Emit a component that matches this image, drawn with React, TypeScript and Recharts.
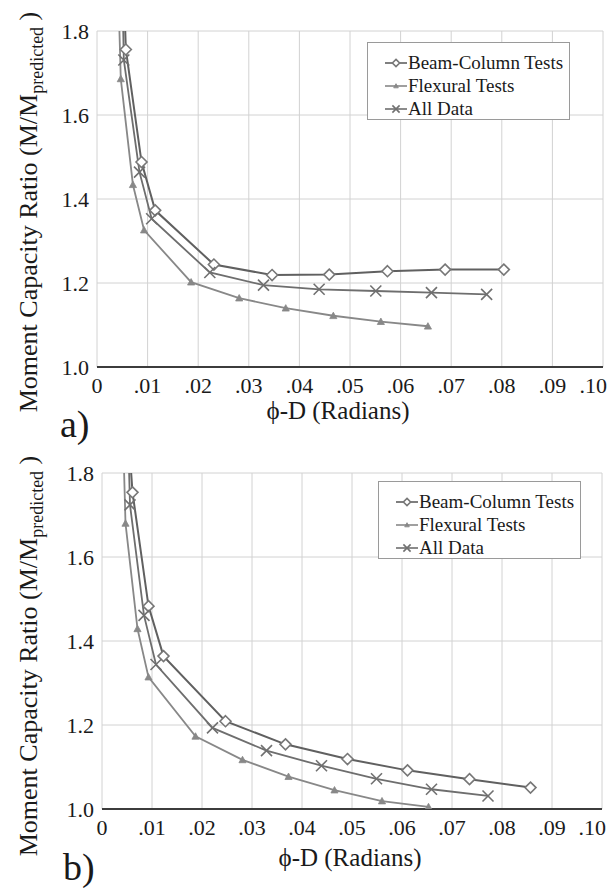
import React from 'react';
import { LineChart, Line, XAxis, YAxis, CartesianGrid, Legend, Label } from 'recharts';

const FONT = '"Liberation Serif", "Times New Roman", Times, "DejaVu Serif", serif';

const X_TICKS = [0, 0.01, 0.02, 0.03, 0.04, 0.05, 0.06, 0.07, 0.08, 0.09, 0.1];
const X_TICK_LABELS = ['0', '.01', '.02', '.03', '.04', '.05', '.06', '.07', '.08', '.09', '.10'];
const Y_TICKS = [1.0, 1.2, 1.4, 1.6, 1.8];
const Y_TICK_LABELS = ['1.0', '1.2', '1.4', '1.6', '1.8'];

const SERIES_NAMES = ['Beam-Column Tests', 'Flexural Tests', 'All Data'];
const X_TITLE = 'ϕ-D (Radians)';
const Y_TITLE_MAIN = 'Moment Capacity Ratio (M/M';
const Y_TITLE_SUB = 'predicted';
const Y_TITLE_END = ' )';
const PANEL_LABELS = ['a)', 'b)'];

// Panel a)
const A_BEAM = [
  { x: 0.0045, y: 2.2 }, { x: 0.0057, y: 1.756 }, { x: 0.0088, y: 1.488 }, { x: 0.0115, y: 1.373 },
  { x: 0.0231, y: 1.244 }, { x: 0.0346, y: 1.219 }, { x: 0.0459, y: 1.22 }, { x: 0.0574, y: 1.228 },
  { x: 0.0688, y: 1.232 }, { x: 0.0804, y: 1.232 },
];
const A_FLEX = [
  { x: 0.0035, y: 2.2 }, { x: 0.0047, y: 1.686 }, { x: 0.0071, y: 1.434 }, { x: 0.0093, y: 1.326 },
  { x: 0.0186, y: 1.202 }, { x: 0.0281, y: 1.164 }, { x: 0.0373, y: 1.14 }, { x: 0.0467, y: 1.122 },
  { x: 0.0561, y: 1.108 }, { x: 0.0654, y: 1.097 },
];
const A_ALL = [
  { x: 0.0045, y: 2.2 }, { x: 0.0053, y: 1.731 }, { x: 0.0084, y: 1.464 }, { x: 0.0108, y: 1.353 },
  { x: 0.0223, y: 1.225 }, { x: 0.0329, y: 1.195 }, { x: 0.0439, y: 1.185 }, { x: 0.0551, y: 1.181 },
  { x: 0.0661, y: 1.177 }, { x: 0.077, y: 1.173 },
];

// Panel b)
const B_BEAM = [
  { x: 0.0035, y: 2.2 }, { x: 0.0061, y: 1.754 }, { x: 0.0093, y: 1.483 }, { x: 0.0123, y: 1.364 },
  { x: 0.0247, y: 1.209 }, { x: 0.0367, y: 1.154 }, { x: 0.0491, y: 1.119 }, { x: 0.0611, y: 1.092 },
  { x: 0.0735, y: 1.071 }, { x: 0.0857, y: 1.051 },
];
const B_FLEX = [
  { x: 0.0035, y: 2.2 }, { x: 0.0047, y: 1.68 }, { x: 0.0071, y: 1.429 }, { x: 0.0093, y: 1.314 },
  { x: 0.0187, y: 1.173 }, { x: 0.0281, y: 1.117 }, { x: 0.0373, y: 1.077 }, { x: 0.0465, y: 1.045 },
  { x: 0.056, y: 1.019 }, { x: 0.0653, y: 1.005 },
];
const B_ALL = [
  { x: 0.0045, y: 2.2 }, { x: 0.0056, y: 1.724 }, { x: 0.0084, y: 1.461 }, { x: 0.0108, y: 1.344 },
  { x: 0.0221, y: 1.193 }, { x: 0.0329, y: 1.139 }, { x: 0.0439, y: 1.103 }, { x: 0.0549, y: 1.072 },
  { x: 0.0659, y: 1.047 }, { x: 0.0772, y: 1.031 },
];

const STYLES = [
  { kind: 'diamond', line: '#606060', marker: '#777777', width: 2 },
  { kind: 'triangle', line: '#888888', marker: '#888888', width: 1.8 },
  { kind: 'cross', line: '#6e6e6e', marker: '#707070', width: 1.8 },
];

function Marker({ kind, cx, cy, color, s }: any) {
  if (kind === 'diamond') {
    return (
      <polygon
        points={`${cx},${cy - s} ${cx + s},${cy} ${cx},${cy + s} ${cx - s},${cy}`}
        fill="#ffffff"
        stroke={color}
        strokeWidth={1.6}
      />
    );
  }
  if (kind === 'triangle') {
    const t = s * 0.65;
    return (
      <polygon
        points={`${cx},${cy - t} ${cx + t},${cy + t * 0.8} ${cx - t},${cy + t * 0.8}`}
        fill={color}
        stroke={color}
        strokeWidth={0.8}
      />
    );
  }
  return (
    <g stroke={color} strokeWidth={1.6}>
      <line x1={cx - s} y1={cy - s} x2={cx + s} y2={cy + s} />
      <line x1={cx - s} y1={cy + s} x2={cx + s} y2={cy - s} />
    </g>
  );
}

const makeDot = (si: number) => (props: any) => {
  const { cx, cy, payload, index } = props;
  const st = STYLES[si];
  if (cx == null || cy == null || payload.y > 1.8) return <g key={`d${index}`} />;
  return (
    <g key={`d${index}`}>
      <Marker kind={st.kind} cx={cx} cy={cy} color={st.marker} s={5.5} />
    </g>
  );
};

const XTick = (props: any) => {
  const { x, y, payload, index } = props;
  const last = index === X_TICKS.length - 1;
  return (
    <text
      x={last ? x + 4 : x}
      y={y}
      dy="0.71em"
      textAnchor={last ? 'end' : 'middle'}
      fontSize={22}
      fill="#1a1a1a"
      style={{ fontFamily: FONT }}
    >
      {X_TICK_LABELS[index] ?? String(payload.value)}
    </text>
  );
};

const YTick = (props: any) => {
  const { x, y, index, payload } = props;
  return (
    <text x={x} y={y} dy="0.355em" textAnchor="end" fontSize={22} fill="#1a1a1a" style={{ fontFamily: FONT }}>
      {Y_TICK_LABELS[index] ?? String(payload.value)}
    </text>
  );
};

const LegendBox = (props: any) => {
  const payload = [...(props.payload || [])].sort(
    (a: any, b: any) => SERIES_NAMES.indexOf(a.value) - SERIES_NAMES.indexOf(b.value)
  );
  return (
    <div
      style={{
        width: 203,
        height: 78,
        boxSizing: 'border-box',
        border: '1px solid #9a9a9a',
        background: '#ffffff',
        paddingTop: 8,
        paddingLeft: 17,
        fontFamily: FONT,
        fontSize: 19,
        color: '#1a1a1a',
      }}
    >
      {payload.map((p: any) => {
        const si = SERIES_NAMES.indexOf(p.value);
        const st = STYLES[si];
        return (
          <div key={p.value} style={{ height: 23, lineHeight: '23px', display: 'flex', alignItems: 'center' }}>
            <svg width={22} height={12} style={{ display: 'block', marginRight: 1 }}>
              <line x1={0} y1={6} x2={22} y2={6} stroke={st.line} strokeWidth={1.6} />
              <Marker kind={st.kind} cx={11} cy={6} color={st.marker} s={3.6} />
            </svg>
            <span style={{ whiteSpace: 'nowrap' }}>{p.value}</span>
          </div>
        );
      })}
    </div>
  );
};

function Panel({ data, top, plotLeft, plotTop, plotRight, height, yTitleCy, xTitleCx, xTitleBase, panelX, panelBase, panelLabel, legendLeft, legendTop }: any) {
  const xAxisH = 30;
  const marginBottom = height - (plotTop + 336) - xAxisH;
  return (
    <div style={{ position: 'absolute', left: 0, top, width: 610, height, fontFamily: FONT }}>
      <LineChart
        width={610}
        height={height}
        margin={{ top: plotTop, right: 610 - plotRight, left: 0, bottom: marginBottom }}
        style={{ fontFamily: FONT }}
      >
        <CartesianGrid stroke="#d2d2d2" strokeWidth={1} />
        <XAxis
          type="number"
          dataKey="x"
          domain={[0, 0.1]}
          ticks={X_TICKS}
          interval={0}
          height={xAxisH}
          axisLine={{ stroke: '#3c3c3c', strokeWidth: 2 }}
          tickLine={false}
          tickMargin={4}
          tick={<XTick />}
          allowDataOverflow
        >
          <Label
            content={() => (
              <g fill="#1a1a1a" style={{ fontFamily: FONT }}>
                <text x={xTitleCx} y={xTitleBase} textAnchor="middle" fontSize={25} style={{ fontFamily: FONT }}>
                  {X_TITLE}
                </text>
                <text x={panelX} y={panelBase} textAnchor="start" fontSize={38} style={{ fontFamily: FONT }}>
                  {panelLabel}
                </text>
              </g>
            )}
          />
        </XAxis>
        <YAxis
          type="number"
          domain={[1.0, 1.8]}
          ticks={Y_TICKS}
          interval={0}
          width={plotLeft}
          axisLine={false}
          tickLine={false}
          tick={<YTick />}
          allowDataOverflow
        >
          <Label
            content={() => (
              <text
                x={37}
                y={yTitleCy}
                transform={`rotate(-90, 37, ${yTitleCy})`}
                textAnchor="middle"
                fontSize={26}
                fill="#1a1a1a"
                style={{ fontFamily: FONT }}
              >
                <tspan>{Y_TITLE_MAIN}</tspan>
                <tspan fontSize={18} dy={6}>{Y_TITLE_SUB}</tspan>
                <tspan dy={-6}>{Y_TITLE_END}</tspan>
              </text>
            )}
          />
        </YAxis>
        <Legend
          layout="vertical"
          align="center"
          verticalAlign="middle"
          content={<LegendBox />}
          wrapperStyle={{ position: 'absolute', left: legendLeft, top: legendTop, width: 203, height: 78 }}
        />
        {data.map((d: any[], i: number) => (
          <Line
            key={SERIES_NAMES[i]}
            name={SERIES_NAMES[i]}
            data={d}
            dataKey="y"
            type="linear"
            stroke={STYLES[i].line}
            strokeWidth={STYLES[i].width}
            dot={makeDot(i)}
            activeDot={false}
            isAnimationActive={false}
          />
        ))}
      </LineChart>
    </div>
  );
}

export default function App() {
  return (
    <div style={{ position: 'absolute', left: 0, top: 0, width: 610, height: 888, background: '#ffffff', overflow: 'hidden', fontFamily: FONT }}>
      <Panel
        data={[A_BEAM, A_FLEX, A_ALL]}
        top={0}
        plotLeft={97}
        plotTop={31}
        plotRight={603}
        height={445}
        yTitleCy={212}
        xTitleCx={338}
        xTitleBase={419}
        panelX={60}
        panelBase={437}
        panelLabel={PANEL_LABELS[0]}
        legendLeft={367}
        legendTop={42}
      />
      <Panel
        data={[B_BEAM, B_FLEX, B_ALL]}
        top={440}
        plotLeft={102}
        plotTop={33}
        plotRight={602}
        height={448}
        yTitleCy={216}
        xTitleCx={350}
        xTitleBase={426}
        panelX={63}
        panelBase={440}
        panelLabel={PANEL_LABELS[1]}
        legendLeft={378}
        legendTop={41}
      />
    </div>
  );
}
